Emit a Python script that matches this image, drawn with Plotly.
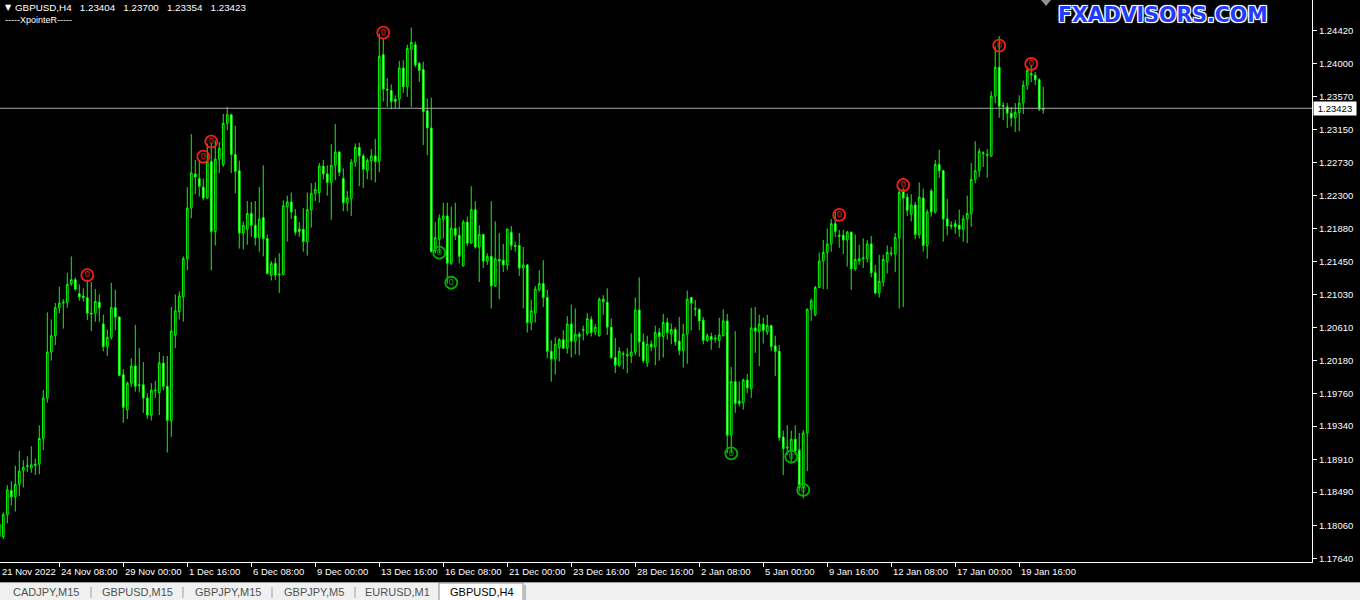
import plotly.graph_objects as go

# ---------------- data (GBPUSD, H4, one entry per bar) ----------------
opens = [1.1792, 1.1792, 1.1820, 1.1851, 1.1843, 1.1859, 1.1877, 1.1882, 1.1880, 1.1883,
         1.1885, 1.1918, 1.1970, 1.2029, 1.2050, 1.2086, 1.2092, 1.2093, 1.2117, 1.2122,
         1.2104, 1.2101, 1.2099, 1.2079, 1.2079, 1.2093, 1.2065, 1.2036, 1.2048, 1.2086,
         1.2074, 1.2000, 1.1955, 1.1989, 1.2011, 1.1987, 1.1987, 1.1970, 1.1948, 1.1979,
         1.1977, 1.2015, 1.1985, 1.1941, 1.2051, 1.2081, 1.2100, 1.2149, 1.2214, 1.2258,
         1.2252, 1.2241, 1.2227, 1.2274, 1.2184, 1.2277, 1.2270, 1.2323, 1.2334, 1.2283,
         1.2262, 1.2182, 1.2187, 1.2207, 1.2192, 1.2176, 1.2202, 1.2175, 1.2128, 1.2143,
         1.2128, 1.2129, 1.2216, 1.2222, 1.2204, 1.2187, 1.2187, 1.2171, 1.2212, 1.2233,
         1.2234, 1.2268, 1.2258, 1.2247, 1.2269, 1.2286, 1.2252, 1.2221, 1.2226, 1.2273,
         1.2292, 1.2281, 1.2262, 1.2275, 1.2281, 1.2274, 1.2411, 1.2367, 1.2365, 1.2354,
         1.2354, 1.2394, 1.2370, 1.2418, 1.2424, 1.2400, 1.2392, 1.2339, 1.2317, 1.2159,
         1.2174, 1.2200, 1.2204, 1.2143, 1.2188, 1.2179, 1.2140, 1.2196, 1.2169, 1.2212,
         1.2164, 1.2180, 1.2146, 1.2152, 1.2114, 1.2148, 1.2147, 1.2141, 1.2183, 1.2166,
         1.2166, 1.2137, 1.2141, 1.2067, 1.2079, 1.2109, 1.2117, 1.2099, 1.2030, 1.2020,
         1.2035, 1.2045, 1.2034, 1.2065, 1.2043, 1.2052, 1.2057, 1.2053, 1.2071, 1.2055,
         1.2050, 1.2097, 1.2093, 1.2061, 1.2022, 1.2012, 1.2026, 1.2024, 1.2024, 1.2029,
         1.2083, 1.2042, 1.2015, 1.2039, 1.2036, 1.2054, 1.2049, 1.2067, 1.2052, 1.2058,
         1.2043, 1.2031, 1.2052, 1.2099, 1.2085, 1.2084, 1.2070, 1.2044, 1.2049, 1.2047,
         1.2044, 1.2050, 1.2069, 1.1922, 1.1991, 1.1966, 1.1964, 1.1993, 1.1982, 1.2060,
         1.2055, 1.2065, 1.2055, 1.2063, 1.2037, 1.2030, 1.1920, 1.1907, 1.1903, 1.1917,
         1.1903, 1.1855, 1.1925, 1.2084, 1.2077, 1.2112, 1.2146, 1.2157, 1.2168, 1.2194,
         1.2179, 1.2179, 1.2173, 1.2183, 1.2136, 1.2146, 1.2149, 1.2149, 1.2168, 1.2131,
         1.2105, 1.2119, 1.2145, 1.2155, 1.2155, 1.2176, 1.2236, 1.2228, 1.2206, 1.2218,
         1.2180, 1.2227, 1.2166, 1.2236, 1.2209, 1.2270, 1.2262, 1.2200, 1.2192, 1.2194,
         1.2192, 1.2187, 1.2200, 1.2207, 1.2251, 1.2262, 1.2284, 1.2283, 1.2281, 1.2358,
         1.2395, 1.2346, 1.2344, 1.2336, 1.2330, 1.2337, 1.2349, 1.2372, 1.2385, 1.2385,
         1.2379, 1.23404]
highs = [1.1812, 1.1823, 1.1858, 1.1863, 1.1883, 1.1902, 1.1890, 1.1895, 1.1908, 1.1892,
         1.1935, 1.1980, 1.2080, 1.2071, 1.2092, 1.2113, 1.2097, 1.2131, 1.2152, 1.2125,
         1.2116, 1.2111, 1.2122, 1.2119, 1.2110, 1.2103, 1.2077, 1.2058, 1.2118, 1.2109,
         1.2075, 1.2007, 1.1991, 1.2021, 1.2064, 1.2034, 1.2016, 1.1976, 1.1989, 1.1992,
         1.2029, 1.2024, 1.2024, 1.2087, 1.2103, 1.2107, 1.2152, 1.2241, 1.2309, 1.2276,
         1.2276, 1.2252, 1.2297, 1.2298, 1.2301, 1.2299, 1.2335, 1.2344, 1.2335, 1.2320,
         1.2275, 1.2197, 1.2223, 1.2222, 1.2223, 1.2241, 1.2269, 1.2180, 1.2146, 1.2150,
         1.2156, 1.2224, 1.2230, 1.2234, 1.2213, 1.2196, 1.2214, 1.2234, 1.2246, 1.2247,
         1.2272, 1.2276, 1.2269, 1.2296, 1.2322, 1.2287, 1.2265, 1.2236, 1.2277, 1.2297,
         1.2298, 1.2284, 1.2278, 1.2290, 1.2303, 1.2438, 1.2432, 1.2381, 1.2373, 1.2359,
         1.2403, 1.2404, 1.2424, 1.2446, 1.2428, 1.2402, 1.2402, 1.2355, 1.2356, 1.2196,
         1.2206, 1.2221, 1.2221, 1.2216, 1.2221, 1.2190, 1.2199, 1.2203, 1.2242, 1.2223,
         1.2192, 1.2181, 1.2156, 1.2223, 1.2197, 1.2182, 1.2168, 1.2188, 1.2191, 1.2171,
         1.2182, 1.2164, 1.2142, 1.2096, 1.2114, 1.2134, 1.2147, 1.2109, 1.2044, 1.2048,
         1.2047, 1.2057, 1.2075, 1.2090, 1.2085, 1.2055, 1.2063, 1.2079, 1.2075, 1.2065,
         1.2099, 1.2102, 1.2111, 1.2072, 1.2047, 1.2035, 1.2030, 1.2034, 1.2053, 1.2099,
         1.2125, 1.2053, 1.2050, 1.2044, 1.2063, 1.2060, 1.2078, 1.2073, 1.2066, 1.2061,
         1.2074, 1.2065, 1.2108, 1.2100, 1.2096, 1.2085, 1.2074, 1.2053, 1.2054, 1.2051,
         1.2073, 1.2084, 1.2078, 1.2010, 1.2056, 1.1991, 1.1995, 1.2001, 1.2086, 1.2087,
         1.2077, 1.2073, 1.2077, 1.2064, 1.2050, 1.2038, 1.1928, 1.1935, 1.1928, 1.1935,
         1.1925, 1.1929, 1.2085, 1.2098, 1.2114, 1.2157, 1.2173, 1.2188, 1.2200, 1.2209,
         1.2186, 1.2186, 1.2185, 1.2184, 1.2180, 1.2167, 1.2175, 1.2173, 1.2178, 1.2141,
         1.2154, 1.2154, 1.2166, 1.2164, 1.2182, 1.2239, 1.2240, 1.2233, 1.2232, 1.2222,
         1.2247, 1.2239, 1.2212, 1.2239, 1.2276, 1.2289, 1.2263, 1.2226, 1.2197, 1.2199,
         1.2212, 1.2205, 1.2230, 1.2272, 1.2300, 1.2291, 1.2287, 1.2290, 1.2364, 1.2422,
         1.2435, 1.2350, 1.2349, 1.2344, 1.2349, 1.2359, 1.2378, 1.2396, 1.2398, 1.2389,
         1.2381, 1.23700]
lows = [1.1788, 1.1789, 1.1809, 1.1832, 1.1824, 1.1844, 1.1855, 1.1875, 1.1874, 1.1871,
        1.1872, 1.1903, 1.1964, 1.2018, 1.2038, 1.2079, 1.2059, 1.2086, 1.2114, 1.2108,
        1.2095, 1.2094, 1.2070, 1.2056, 1.2068, 1.2068, 1.2030, 1.2024, 1.2045, 1.2057,
        1.1998, 1.1938, 1.1943, 1.1984, 1.1978, 1.1977, 1.1951, 1.1943, 1.1941, 1.1970,
        1.1948, 1.1980, 1.1900, 1.1920, 1.2034, 1.2071, 1.2068, 1.2134, 1.2201, 1.2232,
        1.2229, 1.2224, 1.2226, 1.2134, 1.2166, 1.2259, 1.2267, 1.2314, 1.2259, 1.2233,
        1.2162, 1.2161, 1.2167, 1.2177, 1.2166, 1.2158, 1.2152, 1.2129, 1.2121, 1.2122,
        1.2105, 1.2128, 1.2171, 1.2200, 1.2179, 1.2177, 1.2158, 1.2153, 1.2189, 1.2223,
        1.2221, 1.2251, 1.2230, 1.2199, 1.2250, 1.2255, 1.2210, 1.2210, 1.2204, 1.2267,
        1.2242, 1.2240, 1.2251, 1.2250, 1.2247, 1.2260, 1.2351, 1.2344, 1.2341, 1.2342,
        1.2342, 1.2362, 1.2357, 1.2344, 1.2395, 1.2376, 1.2295, 1.2282, 1.2157, 1.2156,
        1.2156, 1.2175, 1.2117, 1.2141, 1.2173, 1.2143, 1.2139, 1.2165, 1.2168, 1.2162,
        1.2119, 1.2137, 1.2141, 1.2085, 1.2113, 1.2097, 1.2132, 1.2134, 1.2160, 1.2158,
        1.2127, 1.2085, 1.2054, 1.2057, 1.2067, 1.2107, 1.2087, 1.2021, 1.1991, 1.2000,
        1.2017, 1.2033, 1.2027, 1.2022, 1.2026, 1.2025, 1.2044, 1.2050, 1.2049, 1.2051,
        1.2049, 1.2077, 1.2051, 1.2020, 1.2002, 1.2010, 1.2007, 1.2002, 1.2015, 1.2025,
        1.2023, 1.2015, 1.2010, 1.2030, 1.2012, 1.2018, 1.2022, 1.2045, 1.2039, 1.2037,
        1.2025, 1.2009, 1.2014, 1.2057, 1.2075, 1.2057, 1.2039, 1.2042, 1.2032, 1.2041,
        1.2034, 1.2049, 1.1899, 1.1899, 1.1951, 1.1959, 1.1955, 1.1976, 1.1970, 1.2028,
        1.2011, 1.2040, 1.2051, 1.2030, 1.1998, 1.1915, 1.1871, 1.1897, 1.1888, 1.1897,
        1.1850, 1.1841, 1.1876, 1.2069, 1.2075, 1.2111, 1.2110, 1.2110, 1.2158, 1.2177,
        1.2163, 1.2155, 1.2139, 1.2109, 1.2133, 1.2141, 1.2137, 1.2144, 1.2125, 1.2103,
        1.2099, 1.2113, 1.2130, 1.2152, 1.2132, 1.2085, 1.2087, 1.2204, 1.2197, 1.2174,
        1.2175, 1.2158, 1.2149, 1.2203, 1.2207, 1.2253, 1.2171, 1.2179, 1.2187, 1.2181,
        1.2177, 1.2171, 1.2169, 1.2190, 1.2246, 1.2254, 1.2267, 1.2253, 1.2280, 1.2349,
        1.2330, 1.2327, 1.2317, 1.2319, 1.2312, 1.2313, 1.2335, 1.2366, 1.2376, 1.2372,
        1.2339, 1.23354]
closes = [1.1808, 1.1820, 1.1852, 1.1843, 1.1859, 1.1876, 1.1881, 1.1883, 1.1884, 1.1885,
          1.1918, 1.1970, 1.2029, 1.2050, 1.2086, 1.2092, 1.2093, 1.2116, 1.2122, 1.2110,
          1.2100, 1.2099, 1.2079, 1.2078, 1.2094, 1.2086, 1.2036, 1.2048, 1.2086, 1.2074,
          1.1999, 1.1958, 1.1989, 1.2011, 1.1985, 1.1986, 1.1970, 1.1948, 1.1980, 1.1980,
          1.2015, 1.1985, 1.1941, 1.2056, 1.2082, 1.2101, 1.2149, 1.2214, 1.2259, 1.2254,
          1.2242, 1.2227, 1.2274, 1.2184, 1.2277, 1.2291, 1.2323, 1.2334, 1.2283, 1.2261,
          1.2182, 1.2192, 1.2207, 1.2192, 1.2176, 1.2200, 1.2175, 1.2130, 1.2143, 1.2128,
          1.2129, 1.2217, 1.2222, 1.2209, 1.2183, 1.2184, 1.2171, 1.2212, 1.2233, 1.2238,
          1.2268, 1.2258, 1.2247, 1.2269, 1.2286, 1.2260, 1.2221, 1.2227, 1.2273, 1.2292,
          1.2281, 1.2264, 1.2275, 1.2281, 1.2274, 1.2409, 1.2367, 1.2366, 1.2351, 1.2351,
          1.2394, 1.2370, 1.2419, 1.2427, 1.2398, 1.2391, 1.2338, 1.2317, 1.2158, 1.2176,
          1.2201, 1.2204, 1.2143, 1.2188, 1.2179, 1.2152, 1.2196, 1.2169, 1.2212, 1.2164,
          1.2180, 1.2146, 1.2152, 1.2114, 1.2149, 1.2146, 1.2141, 1.2187, 1.2166, 1.2165,
          1.2137, 1.2141, 1.2067, 1.2082, 1.2110, 1.2117, 1.2099, 1.2030, 1.2020, 1.2039,
          1.2045, 1.2034, 1.2065, 1.2043, 1.2052, 1.2049, 1.2058, 1.2072, 1.2054, 1.2061,
          1.2097, 1.2094, 1.2061, 1.2022, 1.2012, 1.2030, 1.2027, 1.2026, 1.2029, 1.2083,
          1.2042, 1.2018, 1.2039, 1.2036, 1.2054, 1.2049, 1.2067, 1.2054, 1.2058, 1.2042,
          1.2031, 1.2052, 1.2097, 1.2092, 1.2084, 1.2069, 1.2044, 1.2050, 1.2045, 1.2046,
          1.2051, 1.2069, 1.1922, 1.1991, 1.1963, 1.1963, 1.1993, 1.1983, 1.2060, 1.2056,
          1.2065, 1.2057, 1.2063, 1.2036, 1.2030, 1.1919, 1.1905, 1.1906, 1.1917, 1.1902,
          1.1855, 1.1925, 1.2084, 1.2095, 1.2112, 1.2146, 1.2157, 1.2168, 1.2194, 1.2184,
          1.2178, 1.2173, 1.2183, 1.2136, 1.2148, 1.2149, 1.2150, 1.2168, 1.2131, 1.2105,
          1.2120, 1.2148, 1.2157, 1.2156, 1.2176, 1.2234, 1.2227, 1.2211, 1.2218, 1.2180,
          1.2228, 1.2166, 1.2209, 1.2209, 1.2270, 1.2262, 1.2200, 1.2191, 1.2191, 1.2190,
          1.2187, 1.2200, 1.2207, 1.2251, 1.2262, 1.2287, 1.2285, 1.2282, 1.2358, 1.2395,
          1.2345, 1.2345, 1.2336, 1.2330, 1.2337, 1.2349, 1.2372, 1.2391, 1.2387, 1.2379,
          1.2341, 1.23423]

bar_index = list(range(len(closes)))

# time axis labels (bar index of each label)
time_tick_bars = [15, 31, 47, 63, 79, 95, 111, 127, 143, 159, 175, 191, 207, 223, 239, 255]
time_tick_labels = ["24 Nov 08:00", "29 Nov 00:00", "1 Dec 16:00", "6 Dec 08:00",
                    "9 Dec 00:00", "13 Dec 16:00", "16 Dec 08:00", "21 Dec 00:00",
                    "23 Dec 16:00", "28 Dec 16:00", "2 Jan 08:00", "5 Jan 00:00",
                    "9 Jan 16:00", "12 Jan 08:00", "17 Jan 00:00", "19 Jan 16:00"]
first_time_label = "21 Nov 2022"

# price axis labels
price_ticks = [1.24420, 1.24000, 1.23570, 1.23150, 1.22730, 1.22300, 1.21880, 1.21450,
               1.21030, 1.20610, 1.20180, 1.19760, 1.19340, 1.18910, 1.18490, 1.18060, 1.17640]
price_tick_labels = ["1.24420", "1.24000", "1.23570", "1.23150", "1.22730", "1.22300",
                     "1.21880", "1.21450", "1.21030", "1.20610", "1.20180", "1.19760",
                     "1.19340", "1.18910", "1.18490", "1.18060", "1.17640"]

# XpointeR signals
high_signal_bars = [22, 51, 53, 96, 210, 226, 250, 258]
high_signal_prices = [1.21280, 1.22801, 1.22994, 1.24394, 1.22052, 1.22437, 1.24227, 1.23992]
low_signal_bars = [110, 113, 183, 198, 201]
low_signal_prices = [1.21567, 1.21181, 1.18989, 1.18945, 1.18518]

symbol_title = "GBPUSD,H4"
indicator_name = "-----XpointeR-----"
tab_names = ["CADJPY,M15", "GBPUSD,M15", "GBPJPY,M15", "GBPJPY,M5", "EURUSD,M1", "GBPUSD,H4"]
watermark = "FXADVISORS.COM"

# ---------------- layout geometry ----------------
W, H = 1360, 600
PW, PH = 1312, 562          # plot area in pixels
Y_MIN, Y_MAX = 1.175923, 1.248145
X_MIN, X_MAX = 0.175, 328.2

def px(x):
    return x / PW

def py(y):
    return (PH - y) / PH

FONT = "Liberation Sans"
LIME = "#00ff00"
NB = "\u00a0"

fig = go.Figure()

fig.add_trace(go.Candlestick(
    x=bar_index, open=opens, high=highs, low=lows, close=closes,
    increasing=dict(line=dict(color=LIME, width=1), fillcolor="black"),
    decreasing=dict(line=dict(color=LIME, width=1), fillcolor="white"),
    whiskerwidth=0, showlegend=False, hoverinfo="skip",
))

fig.add_trace(go.Scatter(
    x=high_signal_bars, y=high_signal_prices, mode="markers+text",
    text=["0"] * len(high_signal_bars), textposition="middle center",
    textfont=dict(color="#ff1a1a", size=9, family=FONT),
    marker=dict(symbol="circle-open", size=12, color="#ff1a1a", line=dict(width=1.8, color="#ff1a1a")),
    showlegend=False, hoverinfo="skip",
))
fig.add_trace(go.Scatter(
    x=low_signal_bars, y=low_signal_prices, mode="markers+text",
    text=["0"] * len(low_signal_bars), textposition="middle center",
    textfont=dict(color="#00b400", size=9, family=FONT),
    marker=dict(symbol="circle-open", size=12, color="#00b400", line=dict(width=1.8, color="#00b400")),
    showlegend=False, hoverinfo="skip",
))

shapes = []
annotations = []

# current price line + label
last_close = closes[-1]
shapes.append(dict(type="line", xref="paper", yref="y", x0=0, x1=1, y0=last_close, y1=last_close,
                   line=dict(color="#a8a8a8", width=1), layer="above"))
annotations.append(dict(xref="paper", yref="y", x=1, y=last_close, xanchor="left", yanchor="middle",
                        xshift=1, text=f"{last_close:.5f}", showarrow=False, bgcolor="white",
                        font=dict(color="black", size=9.5, family=FONT), borderpad=1,
                        width=40, height=11))

# time labels
for b, lab in zip(time_tick_bars, time_tick_labels):
    annotations.append(dict(xref="x", yref="paper", x=b, y=py(571), xanchor="left", yanchor="middle",
                            xshift=0, text=lab, showarrow=False,
                            font=dict(color="white", size=9.5, family=FONT)))
annotations.append(dict(xref="paper", yref="paper", x=px(0), y=py(571), xanchor="left", yanchor="middle",
                        text=first_time_label, showarrow=False,
                        font=dict(color="white", size=9.5, family=FONT)))

# header texts
annotations.append(dict(xref="paper", yref="paper", x=px(3), y=py(7), xanchor="left", yanchor="middle",
                        text="▼", showarrow=False, font=dict(color="white", size=8, family="DejaVu Sans")))
sep = NB * 3
header = (f"{symbol_title}{sep}{opens[-1]:.5f}{sep}{highs[-1]:.5f}{sep}"
          f"{lows[-1]:.5f}{sep}{closes[-1]:.5f}")
annotations.append(dict(xref="paper", yref="paper", x=px(13), y=py(7), xanchor="left", yanchor="middle",
                        text=header, showarrow=False, font=dict(color="white", size=9.8, family=FONT)))
annotations.append(dict(xref="paper", yref="paper", x=px(3), y=py(20), xanchor="left", yanchor="middle",
                        text=indicator_name, showarrow=False, font=dict(color="white", size=9, family=FONT)))

# watermark
annotations.append(dict(xref="paper", yref="paper", x=px(1163), y=py(15), xanchor="center", yanchor="middle",
                        text=watermark, showarrow=False,
                        font=dict(color="#1f3cff", size=20.5, family="DejaVu Sans", weight="bold",
                                  shadow="-1px -1px 0 #fff, 1px -1px 0 #fff, -1px 1px 0 #fff, 1px 1px 0 #fff, 0 0 3px #fff")))
# chart shift marker
shapes.append(dict(type="path", xref="paper", yref="paper",
                   path=f"M {px(1041)},{py(0)} L {px(1051)},{py(0)} L {px(1046)},{py(6)} Z",
                   fillcolor="#909090", line=dict(width=0)))

# tabs bar
shapes.append(dict(type="rect", xref="paper", yref="paper", x0=px(0), x1=px(W), y0=py(582), y1=py(H),
                   fillcolor="#f0f0f0", line=dict(width=0), layer="above"))
shapes.append(dict(type="line", xref="paper", yref="paper", x0=px(0), x1=px(W), y0=py(582.5), y1=py(582.5),
                   line=dict(color="#a0a0a0", width=1), layer="above"))
shapes.append(dict(type="rect", xref="paper", yref="paper", x0=px(439), x1=px(523), y0=py(583), y1=py(601),
                   fillcolor="white", line=dict(color="#8a8a8a", width=1), layer="above"))
shapes.append(dict(type="line", xref="paper", yref="paper", x0=px(525), x1=px(525), y0=py(585), y1=py(600),
                   line=dict(color="#8a8a8a", width=1), layer="above"))
for sx in [91, 183, 272, 355]:
    shapes.append(dict(type="line", xref="paper", yref="paper", x0=px(sx), x1=px(sx), y0=py(587), y1=py(598),
                       line=dict(color="#a0a0a0", width=1), layer="above"))
tab_centers = [46, 137, 228, 314, 397, 482]
for name, cx in zip(tab_names, tab_centers):
    active = name == tab_names[-1]
    annotations.append(dict(xref="paper", yref="paper", x=px(cx), y=py(592), xanchor="center", yanchor="middle",
                            text=name, showarrow=False,
                            font=dict(color="#000000" if active else "#505050", size=11, family=FONT)))

fig.update_layout(
    width=W, height=H,
    margin=dict(l=0, r=W - PW, t=0, b=H - PH, pad=0),
    paper_bgcolor="black", plot_bgcolor="black",
    boxgap=0.4,
    showlegend=False,
    xaxis=dict(type="linear", range=[X_MIN, X_MAX], showgrid=False, zeroline=False,
               showline=True, linecolor="white", linewidth=1,
               ticks="outside", ticklen=4, tickcolor="white", tickwidth=1,
               tickvals=time_tick_bars, showticklabels=False,
               rangeslider=dict(visible=False), fixedrange=True),
    yaxis=dict(side="right", range=[Y_MIN, Y_MAX], showgrid=False, zeroline=False,
               showline=True, linecolor="white", linewidth=1,
               ticks="outside", ticklen=4, tickcolor="white", tickwidth=1,
               tickvals=price_ticks, ticktext=price_tick_labels,
               tickfont=dict(color="white", size=9.5, family=FONT), fixedrange=True),
    shapes=shapes, annotations=annotations,
)

fig.write_html("out.html", config={"displayModeBar": False},
               post_script="document.body.style.margin='0px';document.body.style.overflow='hidden';")
